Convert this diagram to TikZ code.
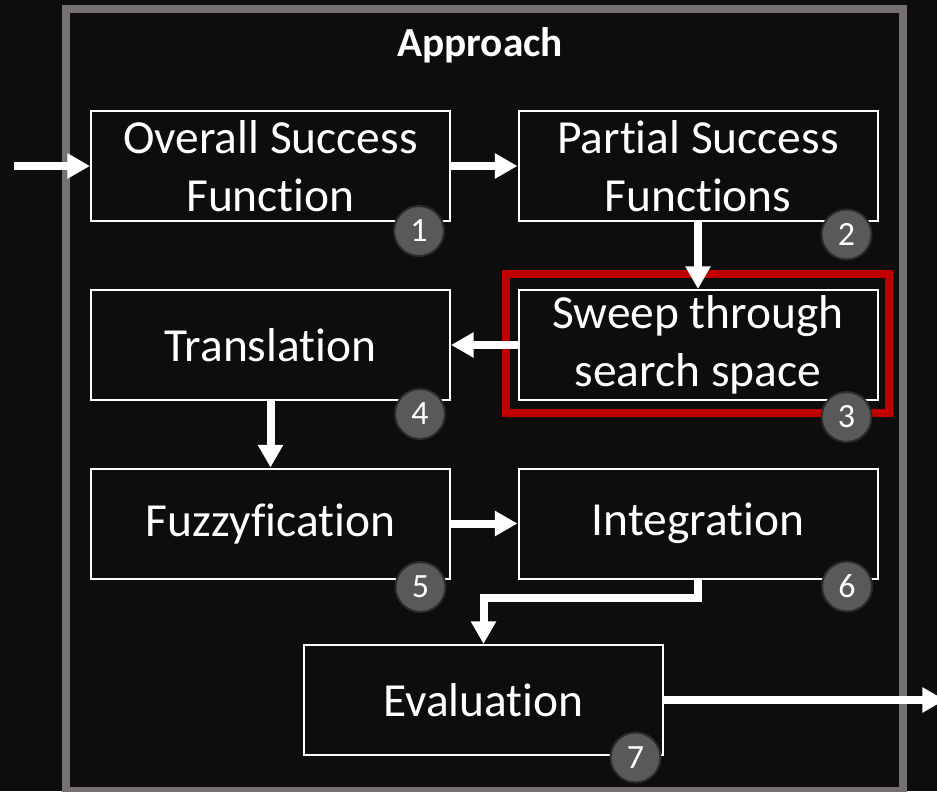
\documentclass[tikz,border=0pt]{standalone}
\usepackage{fontspec}
\setmainfont{Carlito}[Ligatures=NoCommon]
\usetikzlibrary{arrows.meta}
\definecolor{bgdark}{HTML}{0D0D0D}
\definecolor{framegray}{HTML}{767171}
\definecolor{hilite}{HTML}{C00000}
\definecolor{badge}{HTML}{595959}
\definecolor{badgeline}{HTML}{2B2B2B}
\begin{document}
\begin{tikzpicture}[x=0.75pt,y=-0.75pt,
  stepbox/.style={draw=white, line width=1.5pt, fill=bgdark, text=white,
    minimum width=269.25pt, minimum height=82.5pt, inner sep=0pt,
    align=center, font=\fontsize{35.6}{43.1}\selectfont},
  badgenode/.style={circle, fill=badge, draw=badgeline, line width=1.5pt,
    minimum size=37.5pt, inner sep=0pt, text=white,
    font=\fontsize{25.5}{25.5}\selectfont},
  flow/.style={draw=white, line width=6pt,
    -{Triangle[length=17pt,width=18pt]}},
  outerframe/.style={draw=framegray, line width=6pt},
  highlight/.style={draw=hilite, line width=6pt},
]
% canvas
\fill[bgdark] (0,0) rectangle (937,791);
\useasboundingbox (0,0) rectangle (937,791);

% enclosing frame and its title
\draw[outerframe] (66,9) rectangle (903,791);
\node[text=white, anchor=base, font=\bfseries\fontsize{31}{33}\selectfont]
  (title) at (480,57) {Approach};

% process steps
\node[stepbox] (osf)   at (270.5,166)   {Overall Success\\Function};
\node[stepbox] (psf)   at (698,166)     {Partial Success\\Functions};
\node[stepbox] (sweep) at (698,345)     {Sweep through\\search space};
\node[stepbox] (trans) at (270.5,345)   {Translation};
\node[stepbox] (fuzzy) at (270.5,523.5) {Fuzzyfication};
\node[stepbox] (integ) at (698,523.5)   {Integration};
\node[stepbox] (eval)  at (483.5,700)   {Evaluation};

% highlighted step
\draw[highlight] (506,274) rectangle (889,413);

% flow between steps
\coordinate (in)  at (14,166);
\coordinate (out) at (945,700);
\draw[flow] (in) -- (osf.west);
\draw[flow] (osf.east) -- (psf.west);
\draw[flow] (psf.south) -- (sweep.north);
\draw[flow] (sweep.west) -- (trans.east);
\draw[flow] (trans.south) -- (fuzzy.north);
\draw[flow] (fuzzy.east) -- (integ.west);
\draw[flow] (integ.south) -- (integ.south |- 0,598) -| (eval.north);
\draw[flow] (eval.east) -- (out);

% step numbers
\node[badgenode] (b1) at (419,231)     {1};
\node[badgenode] (b2) at (846.5,234.5) {2};
\node[badgenode] (b3) at (846.5,417)   {3};
\node[badgenode] (b4) at (420,414)     {4};
\node[badgenode] (b5) at (420.5,587)   {5};
\node[badgenode] (b6) at (847,586.5)   {6};
\node[badgenode] (b7) at (635.5,757.5) {7};
\end{tikzpicture}
\end{document}
